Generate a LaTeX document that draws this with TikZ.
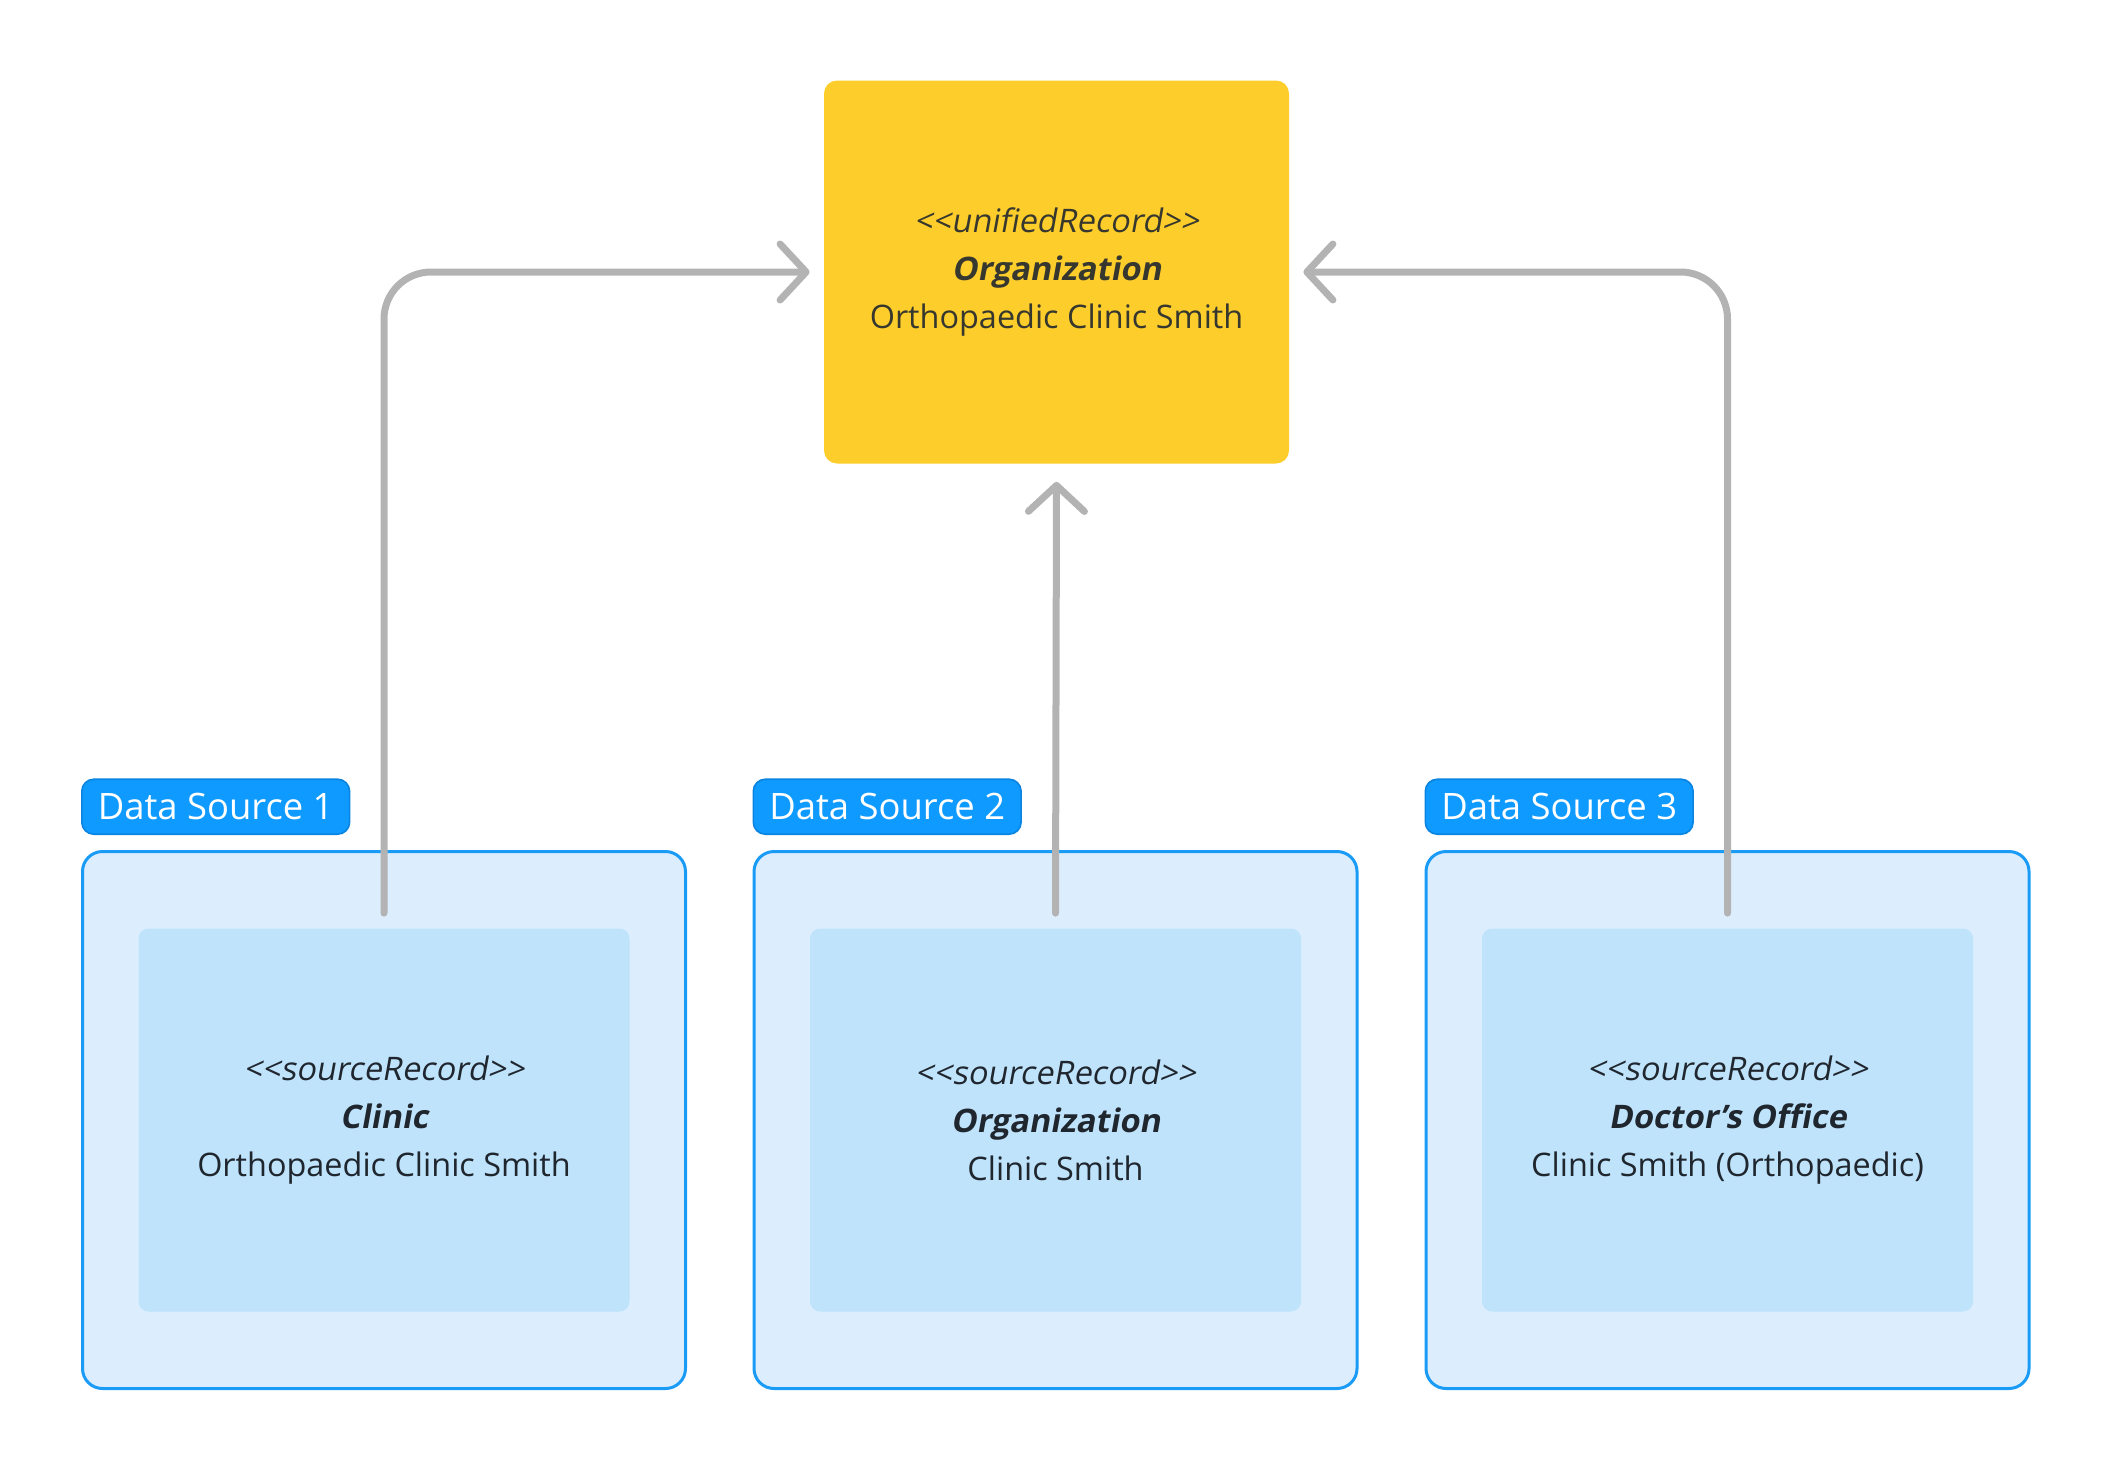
\documentclass[tikz,border=0pt]{standalone}
\usepackage{fontspec}
\usepackage{tikz}
\usetikzlibrary{arrows.meta,positioning}
\newfontfamily\diagfont{Open Sans}[
  ItalicFont=Open Sans, ItalicFeatures={FakeSlant=0.18},
  BoldItalicFont=Open Sans Bold, BoldItalicFeatures={FakeSlant=0.18}]
\definecolor{UnifiedYellow}{HTML}{FDCD2B}
\definecolor{SourceFill}{HTML}{DCEEFD}
\definecolor{SourceBlue}{HTML}{1A9BF6}
\definecolor{RecordFill}{HTML}{BEE3FB}
\definecolor{TagFill}{HTML}{0F9AFF}
\definecolor{TagEdge}{HTML}{0A84E0}
\definecolor{LinkGray}{HTML}{B3B3B3}
\definecolor{InkDark}{HTML}{20262E}

\begin{document}
\begin{tikzpicture}[x=0.5pt, y=-0.5pt,
    unified/.style={fill=UnifiedYellow, rounded corners=6.5pt,
                    minimum width=232.5pt, minimum height=191.5pt, text=InkDark!90!UnifiedYellow,
                    align=center, font=\diagfont\fontsize{16.2}{24}\selectfont},
    source/.style={draw=SourceBlue, fill=SourceFill, line width=1.5pt, rounded corners=10pt,
                   minimum width=301.5pt, minimum height=268.5pt},
    record/.style={fill=RecordFill, rounded corners=5pt, minimum width=245.5pt,
                   minimum height=191.5pt, text=InkDark, align=center,
                   font=\diagfont\fontsize{16.2}{24}\selectfont},
    tag/.style={draw=TagEdge, fill=TagFill, line width=0.8pt, rounded corners=6pt,
                minimum height=27.5pt, inner xsep=8pt, text=white,
                font=\diagfont\fontsize{18.2}{20}\selectfont},
    link/.style={-{Straight Barb[length=13pt, width=28pt, round]}, LinkGray,
                 line width=3.5pt, line cap=round, rounded corners=23.5pt},
  ]
    \useasboundingbox (0,0) rectangle (2112,1472);

    \node[unified] (unified) at (1056.5,272)
      {\textit{<<unifiedRecord>>}\\\textbf{\textit{Organization}}\\Orthopaedic Clinic Smith};

    \node[source] (src1) at (384,1120)    {};
    \node[source] (src2) at (1055.5,1120) {};
    \node[source] (src3) at (1727.5,1120) {};

    \node[record] (rec1) at (src1.center)
      {\textit{<<sourceRecord>>}\\\textbf{\textit{Clinic}}\\Orthopaedic Clinic Smith};
    \node[record] (rec2) at (src2.center)
      {\textit{<<sourceRecord>>}\\\textbf{\textit{Organization}}\\Clinic Smith};
    \node[record] (rec3) at (src3.center)
      {\textit{<<sourceRecord>>}\\\textbf{\textit{Doctor’s Office}}\\Clinic Smith (Orthopaedic)};

    \node[tag, above right=7.5pt and 0pt of src1.north west] (tag1) {Data Source 1};
    \node[tag, above right=7.5pt and 0pt of src2.north west] (tag2) {Data Source 2};
    \node[tag, above right=7.5pt and 0pt of src3.north west] (tag3) {Data Source 3};

    \draw[link] ([yshift=7.5pt]rec1.north) |- ([xshift=-7pt]unified.west);
    \draw[link] ([yshift=7.5pt]rec2.north) -- ([yshift=-9pt]unified.south);
    \draw[link] ([yshift=7.5pt]rec3.north) |- ([xshift=7pt]unified.east);
  \end{tikzpicture}
\end{document}
